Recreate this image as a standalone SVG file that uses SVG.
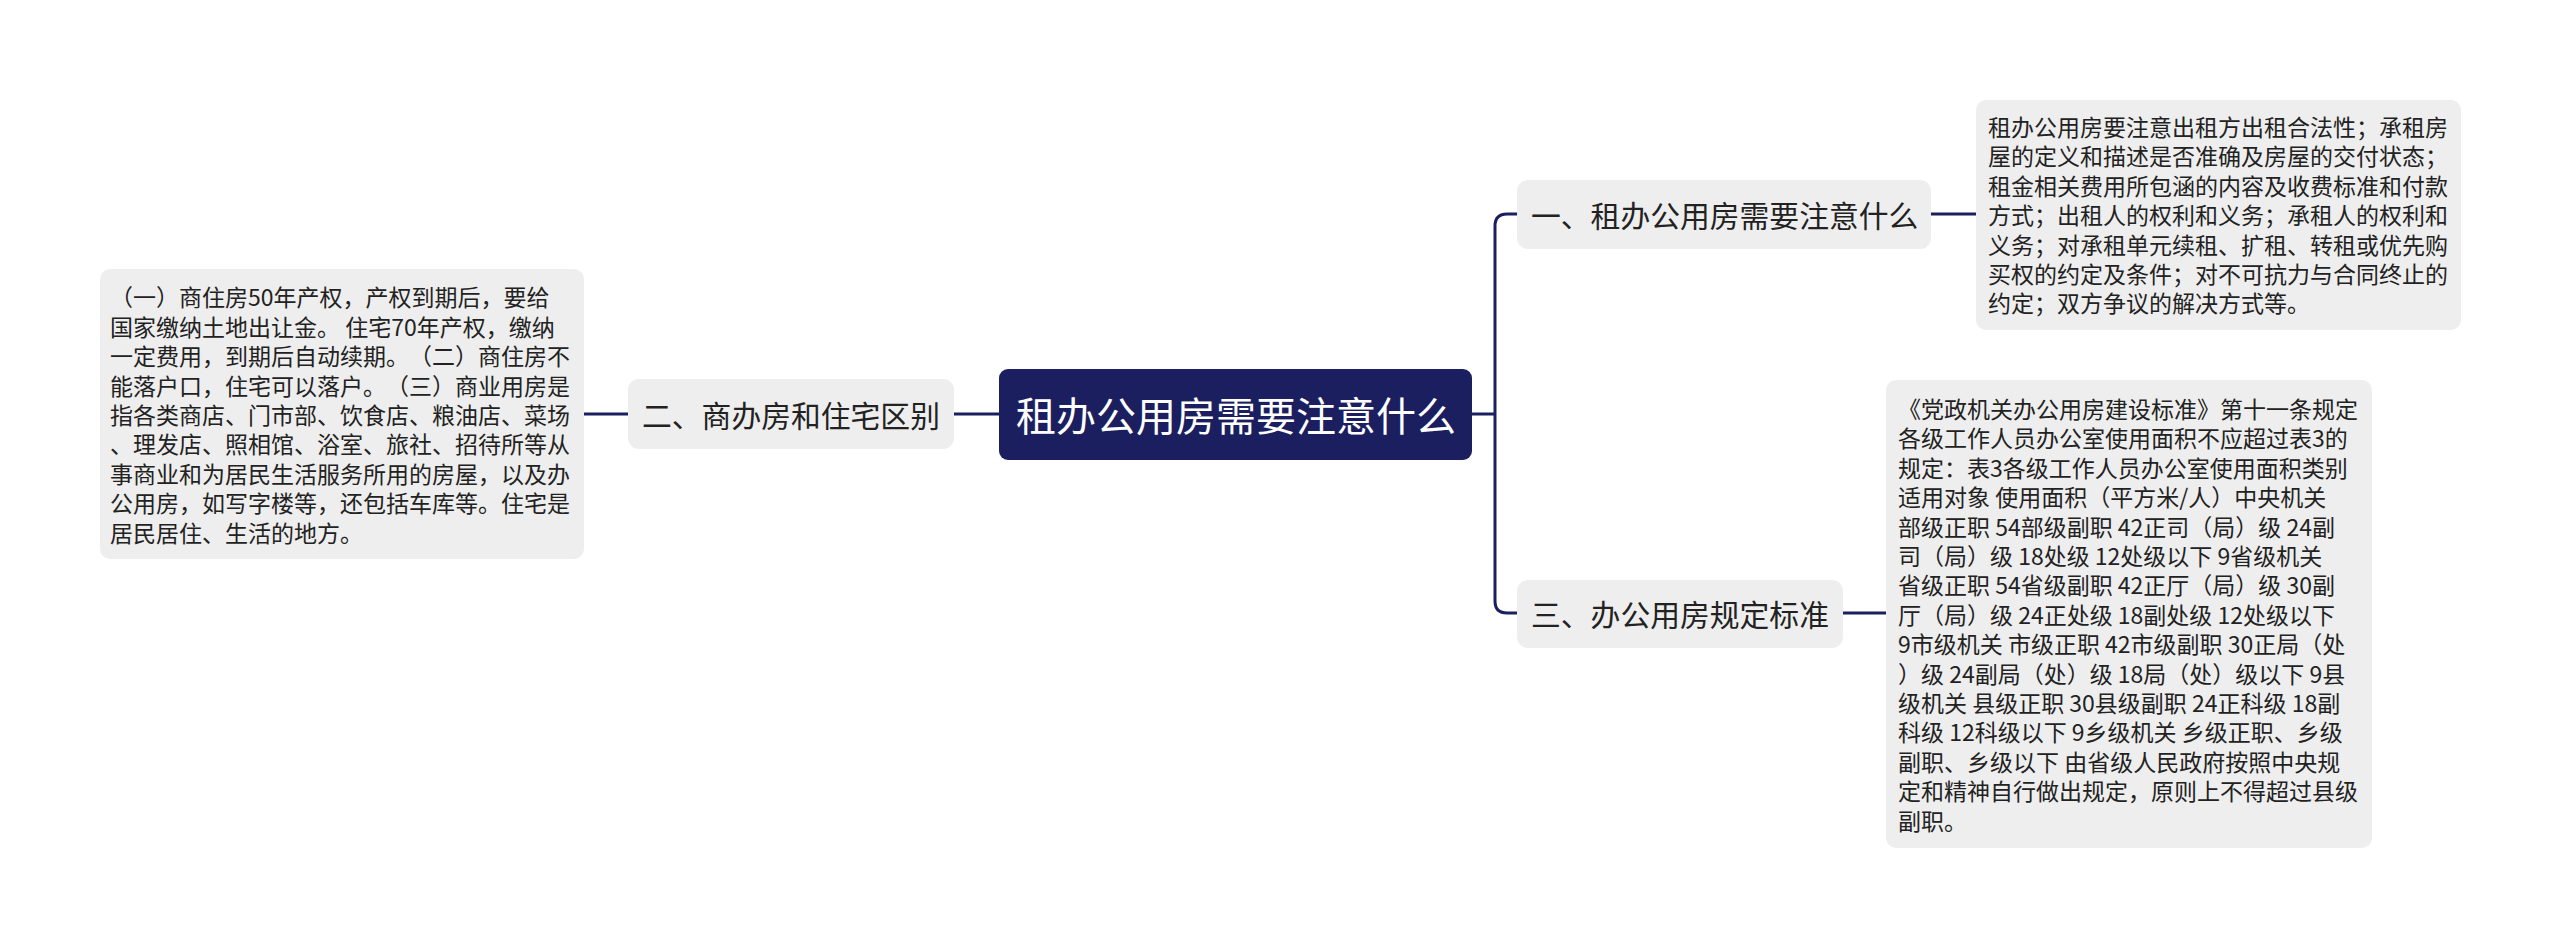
<svg xmlns="http://www.w3.org/2000/svg" width="2560" height="948" viewBox="0 0 2560 948">
<style>
text{font-family:"Noto Sans CJK SC","Noto Sans",sans-serif;text-spacing-trim:space-all;font-feature-settings:"halt" 0,"chws" 0;}
.box{fill:#eeeeee;}
.t30{font-size:29.8px;fill:#222222;dominant-baseline:central;}
.t23{font-size:23px;fill:#222222;dominant-baseline:central;}
.root{font-size:40px;fill:#ffffff;dominant-baseline:central;text-anchor:middle;}
.ln{fill:none;stroke:#1b1f5f;stroke-width:3;}
</style>
<rect width="2560" height="948" fill="#ffffff"/>
<g id="connectors">
<path class="ln" d="M1472 414 H1495"/>
<path class="ln" d="M1517 214 H1507 Q1495 214 1495 226 V601 Q1495 613 1507 613 H1517"/>
<path class="ln" d="M1931 214 H1976"/>
<path class="ln" d="M1843 613 H1886"/>
<path class="ln" d="M999 414 H954"/>
<path class="ln" d="M628 414 H584"/>
</g>
<g id="root">
<rect x="999" y="369" width="473" height="91" rx="9" fill="#1b1f5f"/>
<text class="root" x="1236" y="414">租办公用房需要注意什么</text>
</g>
<g id="branch1">
<rect class="box" x="1517" y="180" width="414" height="69" rx="11"/>
<text class="t30" x="1531" y="214">一、租办公用房需要注意什么</text>
</g>
<g id="branch2">
<rect class="box" x="628" y="379" width="326" height="70" rx="11"/>
<text class="t30" x="642" y="414">二、商办房和住宅区别</text>
</g>
<g id="branch3">
<rect class="box" x="1517" y="580" width="326" height="68" rx="11"/>
<text class="t30" x="1531" y="613">三、办公用房规定标准</text>
</g>
<g id="leaf1">
<rect class="box" x="1976" y="100" width="485" height="230" rx="10"/>
<text class="t23" x="1988">
<tspan x="1988" y="126">租办公用房要注意出租方出租合法性；承租房</tspan>
<tspan x="1988" y="155.4">屋的定义和描述是否准确及房屋的交付状态；</tspan>
<tspan x="1988" y="184.8">租金相关费用所包涵的内容及收费标准和付款</tspan>
<tspan x="1988" y="214.2">方式；出租人的权利和义务；承租人的权利和</tspan>
<tspan x="1988" y="243.6">义务；对承租单元续租、扩租、转租或优先购</tspan>
<tspan x="1988" y="273">买权的约定及条件；对不可抗力与合同终止的</tspan>
<tspan x="1988" y="302.4">约定；双方争议的解决方式等。</tspan>
</text>
</g>
<g id="leaf2">
<rect class="box" x="100" y="269" width="484" height="290" rx="10"/>
<text class="t23" x="110">
<tspan x="110" y="296.4">（一）商住房50年产权，产权到期后，要给</tspan>
<tspan x="110" y="325.8">国家缴纳土地出让金。 住宅70年产权，缴纳</tspan>
<tspan x="110" y="355.2">一定费用，到期后自动续期。（二）商住房不</tspan>
<tspan x="110" y="384.6">能落户口，住宅可以落户。（三）商业用房是</tspan>
<tspan x="110" y="414">指各类商店、门市部、饮食店、粮油店、菜场</tspan>
<tspan x="110" y="443.4">、理发店、照相馆、浴室、旅社、招待所等从</tspan>
<tspan x="110" y="472.8">事商业和为居民生活服务所用的房屋，以及办</tspan>
<tspan x="110" y="502.2">公用房，如写字楼等，还包括车库等。住宅是</tspan>
<tspan x="110" y="531.6">居民居住、生活的地方。</tspan>
</text>
</g>
<g id="leaf3">
<rect class="box" x="1886" y="380" width="486" height="468" rx="10"/>
<text class="t23" x="1898">
<tspan x="1898" y="408">《党政机关办公用房建设标准》第十一条规定</tspan>
<tspan x="1898" y="437.4">各级工作人员办公室使用面积不应超过表3的</tspan>
<tspan x="1898" y="466.8">规定：表3各级工作人员办公室使用面积类别</tspan>
<tspan x="1898" y="496.2">适用对象 使用面积（平方米/人）中央机关</tspan>
<tspan x="1898" y="525.6">部级正职 54部级副职 42正司（局）级 24副</tspan>
<tspan x="1898" y="555">司（局）级 18处级 12处级以下 9省级机关</tspan>
<tspan x="1898" y="584.4">省级正职 54省级副职 42正厅（局）级 30副</tspan>
<tspan x="1898" y="613.8">厅（局）级 24正处级 18副处级 12处级以下</tspan>
<tspan x="1898" y="643.2">9市级机关 市级正职 42市级副职 30正局（处</tspan>
<tspan x="1898" y="672.6">）级 24副局（处）级 18局（处）级以下 9县</tspan>
<tspan x="1898" y="702">级机关 县级正职 30县级副职 24正科级 18副</tspan>
<tspan x="1898" y="731.4">科级 12科级以下 9乡级机关 乡级正职、乡级</tspan>
<tspan x="1898" y="760.8">副职、乡级以下 由省级人民政府按照中央规</tspan>
<tspan x="1898" y="790.2">定和精神自行做出规定，原则上不得超过县级</tspan>
<tspan x="1898" y="819.6">副职。</tspan>
</text>
</g>
</svg>
